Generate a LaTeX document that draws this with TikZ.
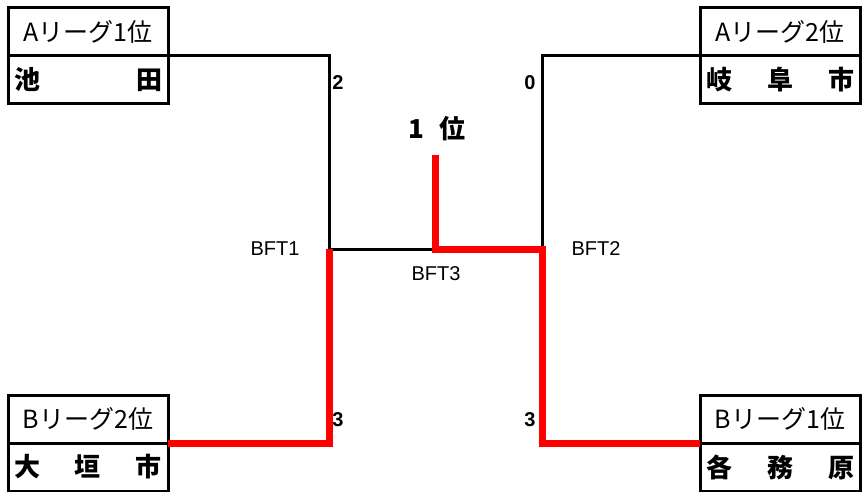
\documentclass[tikz,border=0pt]{standalone}
\usepackage{fontspec}
\setmainfont{Liberation Sans}
\newfontfamily\jp{Noto Sans CJK JP}
\usetikzlibrary{positioning}
\definecolor{cW}{HTML}{FF0000}
\newcommand{\tname}[1]{\makebox[148pt]{#1}}

\begin{document}
\begin{tikzpicture}[x=1pt,y=-1pt,
  rk/.style={draw,line width=3pt,minimum width=160pt,minimum height=48pt,
    inner sep=0pt,outer sep=0pt,font=\jp\fontsize{25}{25}\selectfont},
  tm/.style={rk,font=\jp\bfseries\fontsize{26}{26}\selectfont},
  ln/.style={line width=3pt},
  win/.style={line width=7pt,cW},
  sc/.style={font=\bfseries\fontsize{20}{20}\selectfont},
  bft/.style={font=\fontsize{20}{20}\selectfont}]
  \useasboundingbox (0,0) rectangle (862,492);
  % teams
  \node[rk] (a1r) at (88,32) {Aリーグ1位};
  \node[tm,below=0pt of a1r] (a1n) {\tname{池\hfill 田}};
  \node[rk] (a2r) at (780,32) {Aリーグ2位};
  \node[tm,below=0pt of a2r] (a2n) {\tname{岐\hfill 阜\hfill 市}};
  \node[rk] (b2r) at (88,419) {Bリーグ2位};
  \node[tm,below=0pt of b2r] (b2n) {\tname{大\hfill 垣\hfill 市}};
  \node[rk] (b1r) at (780,419) {Bリーグ1位};
  \node[tm,below=0pt of b1r] (b1n) {\tname{各\hfill 務\hfill 原}};
  % games
  \coordinate (bft1) at (329,249);
  \coordinate (bft2) at (542,249);
  \coordinate (bft3) at (435,249);
  \coordinate (top) at (435,155);
  \draw[ln] (a1n.north east) -| (bft1) -- (bft3);
  \draw[ln] (a2n.north west) -| (bft2);
  \draw[win] (b2n.north east) -| (bft1);
  \draw[win] (b1n.north west) -| (bft2) -- (bft3) -- (top);
  % labels
  \node[bft] (t1) at (275,249) {BFT1};
  \node[bft] (t2) at (596,249) {BFT2};
  \node[bft] (t3) at (436,274) {BFT3};
  \node[font=\jp\bfseries\fontsize{26}{26}\selectfont] (win1) at (437,129) {1\hspace{0.6em}位};
  \node[sc] (s1) at (338,83) {2};
  \node[sc] (s2) at (530,83) {0};
  \node[sc] (s3) at (338,420) {3};
  \node[sc] (s4) at (530,420) {3};
\end{tikzpicture}
\end{document}
